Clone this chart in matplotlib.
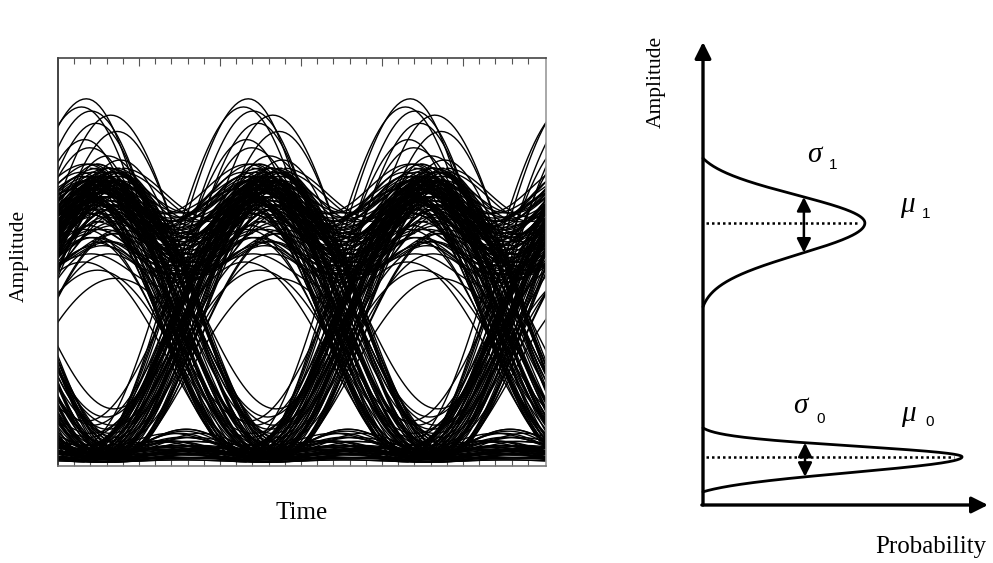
import numpy as np
import matplotlib
matplotlib.use("Agg")
import matplotlib.pyplot as plt
from matplotlib.collections import LineCollection

W, H = 993, 563

# ---------------- eye diagram data (amplitude 0..1, time in unit intervals) -------------
# each trace snippet: level at previous bit centre, left mid-point, current bit centre,
# right mid-point, next bit centre, plus its timing offset
v_prev = [0.03, 0.05, 0.02, 0.04, 0.03, 0.06, 0.02, 0.04,
          0.68, 0.70, 0.64, 0.72, 0.66, 0.69, 0.62, 0.71,
          0.68, 0.65, 0.72, 0.63, 0.70, 0.66,
          0.03, 0.04, 0.02, 0.03, 0.04, 0.02,
          0.68, 0.71, 0.64, 0.69, 0.73, 0.66,
          0.70, 0.66, 0.72, 0.64,
          0.03, 0.02, 0.04, 0.03,
          0.03, 0.02, 0.04, 0.01, 0.035, 0.02, 0.015, 0.025,
          0.04, 0.02, 0.03, 0.05, 0.03, 0.02,
          0.67, 0.73, 0.60, 0.69, 0.65, 0.71, 0.63, 0.74, 0.66, 0.70,
          0.69, 0.64, 0.71, 0.67, 0.73, 0.62, 0.70, 0.66,
          0.02, 0.04, 0.03, 0.05, 0.02, 0.03, 0.04, 0.02,
          0.70, 0.65, 0.72, 0.67, 0.69, 0.63,
          0.68, 0.71, 0.65, 0.73, 0.67,
          0.02, 0.03, 0.01, 0.02, 0.03,
          0.015, 0.02, 0.01, 0.03, 0.025, 0.01, 0.02, 0.035,
          0.03, 0.04, 0.02, 0.05, 0.03, 0.04, 0.02,
          0.64, 0.60, 0.67, 0.62,
          0.58, 0.55, 0.61, 0.56,
          0.57, 0.03, 0.59, 0.02]
v_lmid = [0.45, 0.44, 0.42, 0.41, 0.40, 0.38, 0.37, 0.36,
          0.60, 0.56, 0.52, 0.62, 0.47, 0.55, 0.50, 0.58,
          0.57, 0.52, 0.60, 0.49, 0.54, 0.61,
          0.35, 0.34, 0.37, 0.32, 0.36, 0.35,
          0.38, 0.38, 0.34, 0.36, 0.40, 0.35,
          0.36, 0.34, 0.37, 0.33,
          0.05, 0.07, 0.04, 0.06,
          0.08, 0.04, 0.06, 0.03, 0.05, 0.02, 0.03, 0.045,
          0.42, 0.39, 0.36, 0.45, 0.38, 0.35,
          0.48, 0.59, 0.45, 0.53, 0.57, 0.62, 0.51, 0.55, 0.49, 0.60,
          0.55, 0.50, 0.58, 0.53, 0.61, 0.47, 0.56, 0.59,
          0.34, 0.31, 0.40, 0.33, 0.37, 0.30, 0.39, 0.35,
          0.34, 0.32, 0.38, 0.35, 0.37, 0.31,
          0.32, 0.39, 0.35, 0.40, 0.36,
          0.04, 0.06, 0.03, 0.05, 0.08,
          0.03, 0.05, 0.02, 0.04, 0.09, 0.015, 0.035, 0.05,
          0.27, 0.29, 0.26, 0.31, 0.30, 0.28, 0.32,
          0.40, 0.38, 0.42, 0.36,
          0.46, 0.45, 0.48, 0.47,
          0.47, 0.29, 0.50, 0.30]
v_cent = [0.90, 0.87, 0.86, 0.84, 0.80, 0.76, 0.74, 0.72,
          0.71, 0.66, 0.69, 0.73, 0.62, 0.70, 0.65, 0.68,
          0.70, 0.66, 0.74, 0.64, 0.68, 0.72,
          0.69, 0.66, 0.73, 0.63, 0.70, 0.67,
          0.06, 0.05, 0.08, 0.04, 0.09, 0.07,
          0.03, 0.04, 0.02, 0.05,
          0.02, 0.04, 0.03, 0.02,
          0.02, 0.03, 0.01, 0.02, 0.04, 0.015, 0.03, 0.01,
          0.82, 0.78, 0.70, 0.88, 0.75, 0.68,
          0.64, 0.70, 0.61, 0.67, 0.72, 0.74, 0.66, 0.69, 0.63, 0.71,
          0.67, 0.70, 0.72, 0.65, 0.69, 0.63, 0.71, 0.68,
          0.68, 0.64, 0.72, 0.65, 0.70, 0.62, 0.71, 0.69,
          0.07, 0.05, 0.10, 0.04, 0.06, 0.08,
          0.02, 0.03, 0.015, 0.02, 0.03,
          0.02, 0.015, 0.02, 0.03, 0.02,
          0.01, 0.02, 0.015, 0.03, 0.02, 0.01, 0.025, 0.03,
          0.48, 0.52, 0.46, 0.56, 0.54, 0.50, 0.58,
          0.12, 0.10, 0.14, 0.11,
          0.55, 0.52, 0.57, 0.58,
          0.55, 0.56, 0.58, 0.57]
v_rmid = [0.40, 0.42, 0.45, 0.38, 0.36, 0.40, 0.35, 0.37,
          0.55, 0.58, 0.49, 0.60, 0.53, 0.62, 0.47, 0.56,
          0.37, 0.35, 0.38, 0.33, 0.36, 0.39,
          0.56, 0.53, 0.59, 0.50, 0.55, 0.62,
          0.35, 0.38, 0.36, 0.34, 0.37, 0.33,
          0.05, 0.08, 0.04, 0.06,
          0.36, 0.35, 0.38, 0.34,
          0.07, 0.05, 0.04, 0.03, 0.06, 0.02, 0.085, 0.035,
          0.40, 0.41, 0.35, 0.43, 0.37, 0.34,
          0.52, 0.57, 0.50, 0.61, 0.48, 0.58, 0.54, 0.52, 0.59, 0.46,
          0.34, 0.40, 0.33, 0.31, 0.36, 0.30, 0.42, 0.37,
          0.57, 0.49, 0.60, 0.54, 0.51, 0.58, 0.47, 0.55,
          0.36, 0.31, 0.40, 0.33, 0.35, 0.34,
          0.04, 0.06, 0.03, 0.05, 0.09,
          0.33, 0.39, 0.36, 0.31, 0.37,
          0.025, 0.04, 0.02, 0.045, 0.035, 0.015, 0.03, 0.07,
          0.26, 0.30, 0.27, 0.29, 0.31, 0.28, 0.33,
          0.41, 0.37, 0.40, 0.39,
          0.48, 0.44, 0.50, 0.45,
          0.30, 0.46, 0.31, 0.49]
v_next = [0.02, 0.04, 0.06, 0.03, 0.02, 0.05, 0.03, 0.02,
          0.66, 0.72, 0.70, 0.68, 0.64, 0.71, 0.63, 0.69,
          0.03, 0.04, 0.02, 0.05, 0.03, 0.06,
          0.67, 0.70, 0.71, 0.65, 0.68, 0.72,
          0.66, 0.70, 0.69, 0.65, 0.71, 0.63,
          0.02, 0.03, 0.04, 0.02,
          0.69, 0.67, 0.72, 0.64,
          0.03, 0.02, 0.04, 0.01, 0.05, 0.02, 0.01, 0.03,
          0.03, 0.05, 0.02, 0.04, 0.03, 0.04,
          0.70, 0.66, 0.64, 0.73, 0.62, 0.70, 0.67, 0.65, 0.71, 0.61,
          0.02, 0.04, 0.03, 0.02, 0.05, 0.03, 0.04, 0.02,
          0.71, 0.66, 0.69, 0.63, 0.73, 0.68, 0.64, 0.70,
          0.68, 0.62, 0.70, 0.66, 0.73, 0.67,
          0.01, 0.02, 0.02, 0.03, 0.02,
          0.66, 0.71, 0.68, 0.63, 0.70,
          0.015, 0.025, 0.01, 0.02, 0.03, 0.01, 0.02, 0.04,
          0.03, 0.05, 0.03, 0.04, 0.02, 0.03, 0.04,
          0.66, 0.62, 0.63, 0.65,
          0.60, 0.57, 0.59, 0.54,
          0.03, 0.59, 0.02, 0.60]
t_shift = [-0.09, -0.06, 0.06, -0.03, -0.10, 0.04, -0.02, 0.08,
           0.00, 0.03, -0.04, 0.05, -0.02, 0.02, 0.06, -0.05,
           0.00, 0.07, -0.06, 0.04, -0.03, 0.09,
           0.01, -0.07, 0.05, -0.02, 0.08, -0.04,
           0.00, -0.05, 0.06, -0.02, 0.04, -0.08,
           0.02, -0.05, 0.07, -0.01,
           0.03, -0.04, 0.06, -0.02,
           0.00, 0.03, -0.03, 0.05, -0.02, 0.00, 0.04, -0.05,
           0.10, -0.07, 0.03, -0.12, 0.12, -0.04,
           0.08, -0.07, 0.03, -0.01, 0.10, -0.09, 0.04, -0.03, 0.07, -0.06,
           -0.09, 0.11, -0.12, 0.05, 0.13, -0.08, 0.02, -0.14,
           0.10, -0.11, 0.13, -0.09, 0.06, -0.13, 0.11, -0.06,
           0.10, -0.10, 0.07, -0.12, 0.12, -0.06,
           -0.10, 0.11, -0.07, 0.09, 0.04,
           0.10, -0.11, 0.08, -0.08, 0.13,
           0.02, -0.04, 0.06, -0.01, 0.03, 0.00, -0.06, 0.05,
           -0.02, 0.05, 0.09, -0.07, 0.01, -0.11, 0.12,
           0.03, -0.05, 0.08, -0.09,
           0.02, -0.06, 0.09, -0.03,
           0.06, -0.05, -0.10, 0.10]
eye_centres = [-0.735, 0.265, 1.265, 2.265, 3.265]

# ---------------- probability density diagram data --------------------------------------
mu = [0.609, 0.104]            # mean amplitude of level 1 / level 0
sig_up = [0.0605, 0.0227]       # spread above mean
sig_dn = [0.067, 0.0339]        # spread below mean
ext_up = [0.140, 0.0626]        # extent of curve above mean
ext_dn = [0.181, 0.0756]        # extent of curve below mean
peak = [0.568, 0.909]           # peak probability
sigma_arrow_x = [0.354, 0.358]

# ---------------------------------------------------------------------------------------
fig = plt.figure(figsize=(W / 100, H / 100), dpi=100)
fig.patch.set_facecolor("white")

ax1 = fig.add_axes([58 / W, (H - 466) / H, 488 / W, 408 / H])
ax1.set_xlim(0, 488 / 162)
ax1.set_ylim(0, 1)


def seg(a, m, b, s):
    return a + (b - a) * (1 - np.cos(np.pi * s)) / 2 + (m - (a + b) / 2) * np.sin(np.pi * s) ** 2


lines = []
s = np.linspace(0, 1, 50)
for c in eye_centres:
    for i in range(len(v_prev)):
        t = np.concatenate([c - 1 + s, c + s]) + t_shift[i]
        y = np.concatenate([seg(v_prev[i], v_lmid[i], v_cent[i], s),
                            seg(v_cent[i], v_rmid[i], v_next[i], s)])
        lines.append(np.column_stack([t, y]))
ax1.add_collection(LineCollection(lines, colors="black", linewidths=1.0))

ax1.set_yticks([])
ax1.set_xticks(np.arange(0.5, 3.0, 0.5))
ax1.set_xticks(np.arange(0.1, 3.0, 0.1), minor=True)
ax1.tick_params(axis="x", which="both", direction="in", top=True, bottom=True,
                labelbottom=False, color="#555555", width=0.8)
ax1.tick_params(axis="x", which="major", length=6)
ax1.tick_params(axis="x", which="minor", length=4)
ax1.spines["left"].set_color("#222222")
ax1.spines["top"].set_color("#444444")
ax1.spines["right"].set_color("#999999")
ax1.spines["bottom"].set_color("#777777")
for sp in ax1.spines.values():
    sp.set_linewidth(1.2)

serif = ["Liberation Serif", "DejaVu Serif"]
fig.text(19 / W, 1 - 256 / H, "Amplitude", rotation=90, ha="center", va="center",
         family=serif, fontsize=15.5)
fig.text(302 / W, 1 - 519 / H, "Time", ha="center", va="baseline", family=serif, fontsize=18)

# ---------------- right panel ----------------------------------------------------------
ax2 = fig.add_axes([703 / W, (H - 505) / H, (988 - 703) / W, (505 - 42) / H])
ax2.set_xlim(0, 1)
ax2.set_ylim(0, 1)
ax2.axis("off")

ax2.annotate("", xy=(0, 1.0), xytext=(0, 0),
             arrowprops=dict(arrowstyle="-|>,head_length=0.7,head_width=0.35", lw=2.4,
                             color="black", mutation_scale=14, shrinkA=0, shrinkB=0),
             annotation_clip=False)
ax2.annotate("", xy=(1.0, 0), xytext=(-0.004, 0),
             arrowprops=dict(arrowstyle="-|>,head_length=0.7,head_width=0.35", lw=2.4,
                             color="black", mutation_scale=14, shrinkA=0, shrinkB=0),
             annotation_clip=False)

for k in range(2):
    yu = np.linspace(0, ext_up[k], 200)
    gu = np.exp(-yu ** 2 / (2 * sig_up[k] ** 2))
    geu = np.exp(-ext_up[k] ** 2 / (2 * sig_up[k] ** 2))
    xu = peak[k] * (gu - geu) / (1 - geu)
    yd = np.linspace(0, ext_dn[k], 200)
    gd = np.exp(-yd ** 2 / (2 * sig_dn[k] ** 2))
    ged = np.exp(-ext_dn[k] ** 2 / (2 * sig_dn[k] ** 2))
    xd = peak[k] * (gd - ged) / (1 - ged)
    xx = np.concatenate([xd[::-1], xu[1:]])
    yy = np.concatenate([mu[k] - yd[::-1], mu[k] + yu[1:]])
    ax2.plot(xx, yy, color="black", lw=2.0, clip_on=False, solid_capstyle="round")
    ax2.plot([0.01, peak[k] * 0.97], [mu[k], mu[k]], color="black", lw=1.8,
             linestyle=(0, (1, 1.2)))
    ax_ = sigma_arrow_x[k]
    y_top = mu[k] + np.interp(ax_, xu[::-1], yu[::-1])
    y_bot = mu[k] - np.interp(ax_, xd[::-1], yd[::-1])
    ax2.annotate("", xy=(ax_, y_top), xytext=(ax_, y_bot),
                 arrowprops=dict(arrowstyle="<|-|>,head_length=0.6,head_width=0.3", lw=1.8,
                                 color="black", mutation_scale=14, shrinkA=0, shrinkB=0))

greek = dict(family=serif, style="italic", fontsize=21)
sub = dict(family=["Liberation Sans", "DejaVu Sans"], fontsize=11)
fig.text(814 / W, 1 - 162 / H, "σ", ha="center", va="baseline", **greek)
fig.text(833 / W, 1 - 169 / H, "1", ha="center", va="baseline", **sub)
fig.text(907 / W, 1 - 212 / H, "μ", ha="center", va="baseline", **greek)
fig.text(926 / W, 1 - 218 / H, "1", ha="center", va="baseline", **sub)
fig.text(800 / W, 1 - 413 / H, "σ", ha="center", va="baseline", **greek)
fig.text(821 / W, 1 - 423 / H, "0", ha="center", va="baseline", **sub)
fig.text(908 / W, 1 - 421 / H, "μ", ha="center", va="baseline", **greek)
fig.text(930 / W, 1 - 426 / H, "0", ha="center", va="baseline", **sub)

fig.text(656 / W, 1 - 82 / H, "Amplitude", rotation=90, ha="center", va="center",
         family=serif, fontsize=15.5)
fig.text(931 / W, 1 - 553 / H, "Probability", ha="center", va="baseline",
         family=serif, fontsize=18)

fig.savefig("out.png", dpi=100, facecolor="white")
